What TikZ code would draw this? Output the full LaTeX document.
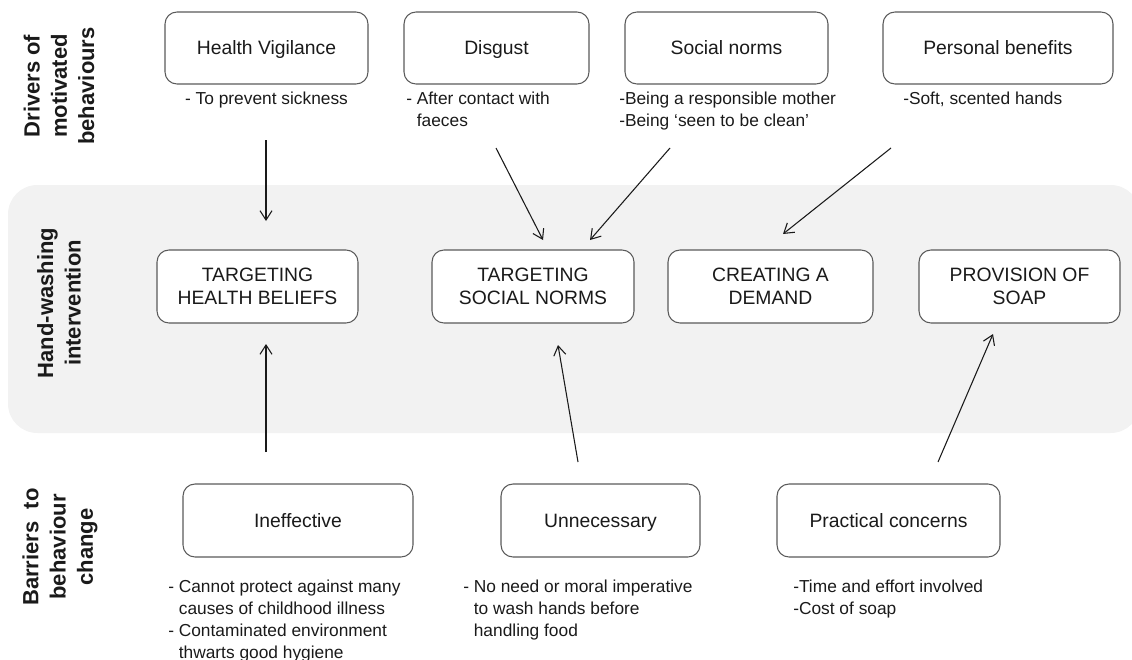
\documentclass[tikz,border=0pt]{standalone}
\usepackage{fontspec}
\setmainfont{Liberation Sans}
\usetikzlibrary{arrows.meta}
\definecolor{band}{HTML}{F2F2F2}
\definecolor{edge}{HTML}{5A5A5A}
\definecolor{txt}{HTML}{1A1A1A}
\begin{document}
\begin{tikzpicture}[x=0.75pt,y=-0.75pt,
 box/.style={draw=edge,line width=0.8pt,rounded corners=9pt,fill=white,inner sep=0pt,align=center,text=txt,font=\fontsize{14.5}{17.5}\selectfont},
 onebox/.style={draw=edge,line width=0.8pt,rounded corners=9pt,fill=white,inner sep=0pt,text=txt,font=\fontsize{14.5}{17.5}\selectfont,text height=10.4pt,text depth=0pt},
 desc/.style={anchor=north west,inner sep=0pt,align=left,text=txt,font=\fontsize{13}{16.3}\selectfont},
 side/.style={rotate=90,align=center,text=txt,font=\bfseries\fontsize{16.5}{20.5}\selectfont},
 arr/.style={line width=0.8pt,draw=txt,-{Straight Barb[length=7pt,width=9pt]}}]
\useasboundingbox (0,0) rectangle (1132,660);
% band
\fill[band,rounded corners=22pt] (8,185) rectangle (1140,433);
% side labels
\node[side] (ldrv) at (59,86) {Drivers of\\motivated\\behaviours};
\node[side] (lhw) at (59,303) {Hand-washing\\intervention};
\node[side] (lbar) at (60,547) {Barriers\ \ to\\behaviour\\change};
% top boxes
\node[onebox,minimum width=152.25pt,minimum height=54pt] (hv) at (266.5,48) {Health Vigilance};
\node[onebox,minimum width=138.75pt,minimum height=54pt] (dis) at (496.5,48) {Disgust};
\node[onebox,minimum width=152.25pt,minimum height=54pt] (sn) at (726.5,48) {Social norms};
\node[onebox,minimum width=172.5pt,minimum height=54pt] (pb) at (998,48) {Personal benefits};
% top descriptions
\node[desc,anchor=north] (hvd) at (266.5,92) {- To prevent sickness};
\node[desc] (disd) at (406,92) {- After contact with\\\phantom{- }faeces};
\node[desc] (snd) at (619,92) {-Being a responsible mother\\-Being `seen to be clean'};
\node[desc] (pbd) at (903,92) {-Soft, scented hands};
% middle boxes
\node[box,minimum width=150.75pt,minimum height=54.75pt] (th) at (257.5,286.5) {TARGETING\\HEALTH BELIEFS};
\node[box,minimum width=151.5pt,minimum height=54.75pt] (ts) at (533,286.5) {TARGETING\\SOCIAL NORMS};
\node[box,minimum width=153.75pt,minimum height=54.75pt] (cd) at (770.5,286.5) {CREATING A\\DEMAND};
\node[box,minimum width=150.75pt,minimum height=54.75pt] (ps) at (1019.5,286.5) {PROVISION OF\\SOAP};
% bottom boxes
\node[onebox,minimum width=172.5pt,minimum height=54.75pt] (ine) at (298,520.5) {Ineffective};
\node[onebox,minimum width=149.25pt,minimum height=54.75pt] (unn) at (600.5,520.5) {Unnecessary};
\node[onebox,minimum width=167.25pt,minimum height=54.75pt] (pra) at (888.5,520.5) {Practical concerns};
% bottom descriptions
\node[desc] (ined) at (168,580) {- Cannot protect against many\\\phantom{- }causes of childhood illness\\- Contaminated environment\\\phantom{- }thwarts good hygiene};
\node[desc] (unnd) at (463,580) {- No need or moral imperative\\\phantom{- }to wash hands before\\\phantom{- }handling food};
\node[desc] (prad) at (793,580) {-Time and effort involved\\-Cost of soap};
% arrow end points
\coordinate (a1s) at (266,140); \coordinate (a1e) at (266,221);
\coordinate (a2s) at (496,148); \coordinate (a2e) at (543,240);
\coordinate (a3s) at (670,148); \coordinate (a3e) at (590,240);
\coordinate (a4s) at (891,148); \coordinate (a4e) at (783,234);
\coordinate (a5s) at (266,452); \coordinate (a5e) at (266,344);
\coordinate (a6s) at (578,462); \coordinate (a6e) at (558,345);
\coordinate (a7s) at (938,462); \coordinate (a7e) at (993,334);
\draw[arr] (a1s) -- (a1e);
\draw[arr] (a2s) -- (a2e);
\draw[arr] (a3s) -- (a3e);
\draw[arr] (a4s) -- (a4e);
\draw[arr] (a5s) -- (a5e);
\draw[arr] (a6s) -- (a6e);
\draw[arr] (a7s) -- (a7e);
\end{tikzpicture}
\end{document}
